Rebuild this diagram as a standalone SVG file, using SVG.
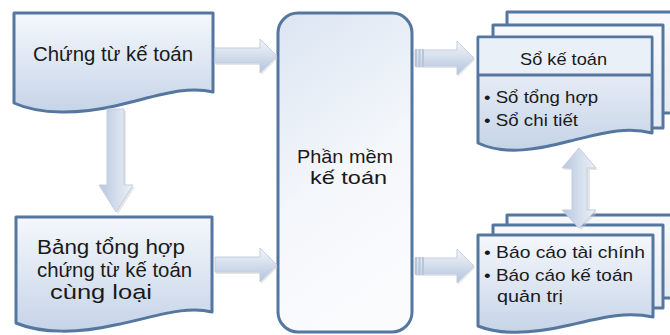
<svg xmlns="http://www.w3.org/2000/svg" width="670" height="335" viewBox="0 0 670 335">
<style>
.box{stroke:#55779f;stroke-width:3;stroke-linejoin:round}
.t{font-family:"Liberation Sans",Arial,sans-serif;fill:#1a1a1a}
.arr{stroke:#c3cede;stroke-width:1}
.sh{fill:#c8c8c8;opacity:0.45}
</style>
<defs>
<linearGradient id="doc" x1="0" y1="0" x2="0" y2="1">
<stop offset="0" stop-color="#f5f8fc"/><stop offset="1" stop-color="#c6d4e8"/>
</linearGradient>
<linearGradient id="soft" x1="0" y1="0" x2="0.3" y2="1">
<stop offset="0" stop-color="#dbe5f2"/><stop offset="0.6" stop-color="#f4f7fb"/><stop offset="1" stop-color="#f9fbfd"/>
</linearGradient>
<linearGradient id="page" x1="0" y1="0" x2="0" y2="1">
<stop offset="0" stop-color="#f7f9fc"/><stop offset="1" stop-color="#e4ebf5"/>
</linearGradient>
<linearGradient id="ah" x1="0" y1="0" x2="0" y2="1">
<stop offset="0" stop-color="#f3f6fa"/><stop offset="1" stop-color="#b3c4dd"/>
</linearGradient>
<linearGradient id="av" x1="0" y1="0" x2="1" y2="0">
<stop offset="0" stop-color="#b7c7df"/><stop offset="1" stop-color="#eef2f8"/>
</linearGradient>
</defs>

<g id="node-chung-tu">
<path class="box" fill="url(#doc)" d="M14,13 H213 V92 C185,85 155,97 115,106 C80,114 40,115 14,103 Z"/>
<text class="t" x="33" y="61" font-size="20.5" textLength="160" lengthAdjust="spacingAndGlyphs">Chứng từ kế toán</text>
</g>

<g id="node-bang-tong-hop">
<path class="box" fill="url(#doc)" d="M16,217 H212 V312 C185,305 155,317 115,325 C80,333 42,334 16,323 Z"/>
<text class="t" x="37" y="254" font-size="20.5" textLength="148" lengthAdjust="spacingAndGlyphs">Bảng tổng hợp</text>
<text class="t" x="37" y="277" font-size="20.5" textLength="155" lengthAdjust="spacingAndGlyphs">chứng từ kế toán</text>
<text class="t" x="50" y="299" font-size="20.5" textLength="102" lengthAdjust="spacingAndGlyphs">cùng loại</text>
</g>

<g id="node-phan-mem">
<rect class="box" fill="url(#soft)" x="278" y="13" width="134" height="319" rx="20"/>
<text class="t" x="297" y="163" font-size="19" textLength="96" lengthAdjust="spacingAndGlyphs">Phần mềm</text>
<text class="t" x="310" y="184" font-size="19" textLength="77" lengthAdjust="spacingAndGlyphs">kế toán</text>
</g>

<g id="node-so-ke-toan">
<rect class="box" fill="url(#page)" x="507" y="12" width="180" height="101"/>
<rect class="box" fill="url(#page)" x="493" y="25" width="170" height="103"/>
<path class="box" fill="url(#doc)" d="M478,37 H652 V133 C625,126 600,134 570,141 C540,149 505,156 478,143 Z"/>
<rect x="479.5" y="38.5" width="171" height="36" fill="#eaf0f7"/>
<line class="box" x1="478" y1="75" x2="652" y2="75"/>
<text class="t" x="520" y="65" font-size="17" textLength="87" lengthAdjust="spacingAndGlyphs">Sổ kế toán</text>
<text class="t" x="484" y="103" font-size="17" textLength="114" lengthAdjust="spacingAndGlyphs">• Sổ tổng hợp</text>
<text class="t" x="484" y="126" font-size="17" textLength="94" lengthAdjust="spacingAndGlyphs">• Sổ chi tiết</text>
</g>

<g id="node-bao-cao">
<rect class="box" fill="url(#page)" x="507" y="215" width="180" height="83"/>
<rect class="box" fill="url(#page)" x="493" y="225" width="170" height="83"/>
<path class="box" fill="url(#doc)" d="M478,235 H653 V317 C625,311 600,318 570,325 C540,332 505,337 478,326 Z"/>
<text class="t" x="484" y="258" font-size="17" textLength="161" lengthAdjust="spacingAndGlyphs">• Báo cáo tài chính</text>
<text class="t" x="484" y="281" font-size="17" textLength="149" lengthAdjust="spacingAndGlyphs">• Báo cáo kế toán</text>
<text class="t" x="497" y="302" font-size="17" textLength="66" lengthAdjust="spacingAndGlyphs">quản trị</text>
</g>

<g id="connectors">
<path class="sh" d="M109,111 H126 V187 H135 L118,214 L101,187 H109 Z"/>
<path class="arr" fill="url(#av)" d="M107,109 H124 V185 H133 L116,212 L99,185 H107 Z"/>
<path class="sh" d="M216,50 H261 V41 L278,58 L261,75 V65 H216 Z"/>
<path class="arr" fill="url(#ah)" d="M215,48 H260 V39 L277,56 L260,73 V63 H215 Z"/>
<path class="sh" d="M216,259 H261 V250 L278,267 L261,284 V274 H216 Z"/>
<path class="arr" fill="url(#ah)" d="M215,257 H260 V248 L277,265 L260,282 V272 H215 Z"/>
<path class="sh" d="M416,52 H458 V43 L475,60 L458,77 V68 H416 Z"/>
<path class="arr" fill="url(#ah)" d="M415,50 H457 V41 L474,58 L457,75 V66 H415 Z"/>
<rect x="415" y="49" width="2" height="18" fill="#b8c6da"/>
<rect x="418.5" y="49" width="2" height="18" fill="#b8c6da"/>
<rect x="422" y="49" width="2" height="18" fill="#b8c6da"/>
<path class="sh" d="M416,260 H458 V251 L475,268 L458,285 V276 H416 Z"/>
<path class="arr" fill="url(#ah)" d="M415,258 H457 V249 L474,266 L457,283 V274 H415 Z"/>
<rect x="415" y="257" width="2" height="18" fill="#b8c6da"/>
<rect x="418.5" y="257" width="2" height="18" fill="#b8c6da"/>
<rect x="422" y="257" width="2" height="18" fill="#b8c6da"/>
<path class="sh" d="M581,150 L598,170 H590 V212 H598 L581,230 L564,212 H573 V170 H564 Z"/>
<path class="arr" fill="url(#av)" d="M579,148 L596,168 H587 V210 H596 L579,228 L562,210 H572 V168 H562 Z"/>
</g>
</svg>
